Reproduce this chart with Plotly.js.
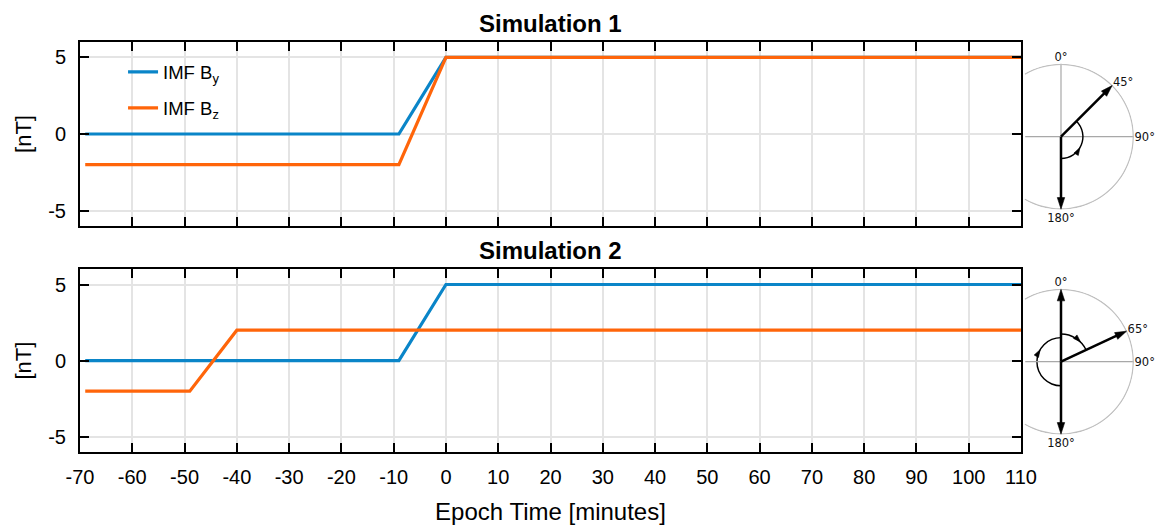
<!DOCTYPE html>
<html><head><meta charset="utf-8">
<script src="https://cdn.plot.ly/plotly-3.0.1.min.js"></script>
<style>html,body{margin:0;padding:0;background:#fff}#chart{width:1155px;height:526px}</style>
</head><body><div id="chart"></div>
<script>
// ---- data ----
const sim1ByTime = [-69, -9, 0, 110];
const sim1ByValues = [0, 0, 5, 5];
const sim1BzTime = [-69, -9, 0, 110];
const sim1BzValues = [-2, -2, 5, 5];
const sim2ByTime = [-69, -9, 0, 110];
const sim2ByValues = [0, 0, 5, 5];
const sim2BzTime = [-69, -49, -40, 110];
const sim2BzValues = [-2, -2, 2, 2];

const xTickVals = [-70, -60, -50, -40, -30, -20, -10, 0, 10, 20, 30, 40, 50, 60, 70, 80, 90, 100, 110];
const xTickText = ['-70', '-60', '-50', '-40', '-30', '-20', '-10', '0', '10', '20', '30', '40', '50', '60', '70', '80', '90', '100', '110'];
const yTickVals = [-5, 0, 5];
const yTickText = ['-5', '0', '5'];

const seriesNames = ['IMF B<sub>y</sub>', 'IMF B<sub>z</sub>'];
const titles = ['Simulation 1', 'Simulation 2'];

// clock-angle diagrams
const sim1Angles = [45, 180];
const sim1AngleTicks = [0, 45, 90, 180];
const sim1AngleLabels = ['0°', '45°', '90°', '180°'];
const sim1SweepStart = [180];
const sim1SweepEnd = [45];
const sim1SweepRadius = [0.3];
const sim1SweepArrowAt = [120];

const sim2Angles = [0, 65, 180];
const sim2AngleTicks = [0, 65, 90, 180];
const sim2AngleLabels = ['0°', '65°', '90°', '180°'];
const sim2SweepStart = [0, 180];
const sim2SweepEnd = [65, 360];
const sim2SweepRadius = [0.38, 0.33];
const sim2SweepArrowAt = [45, 300];

// visible part of the reference circle (clock degrees)
const circleArcStart = [-30];
const circleArcEnd = [210];

// ---- style ----
const BLUE = '#0a85c8';
const ORANGE = '#ff650a';
const FONT = 'Liberation Sans, Arial, sans-serif';

const traces = [];
function lineTrace(x, y, xa, ya, name, color, show, group) {
  return {type: 'scatter', mode: 'lines', x: x, y: y, xaxis: xa, yaxis: ya, name: name,
    line: {color: color, width: 3.2}, showlegend: show, legendgroup: group, hoverinfo: 'skip'};
}
traces.push(lineTrace(sim1ByTime, sim1ByValues, 'x', 'y', seriesNames[0], BLUE, true, 'by'));
traces.push(lineTrace(sim1BzTime, sim1BzValues, 'x', 'y', seriesNames[1], ORANGE, true, 'bz'));
traces.push(lineTrace(sim2ByTime, sim2ByValues, 'x2', 'y2', seriesNames[0], BLUE, false, 'by'));
traces.push(lineTrace(sim2BzTime, sim2BzValues, 'x2', 'y2', seriesNames[1], ORANGE, false, 'bz'));

function arcTrace(subplot, a0, a1, radius, thick, color) {
  return {type: 'barpolar', subplot: subplot, theta: [(a0 + a1) / 2], width: [Math.abs(a1 - a0)],
    base: [radius - thick / 2], r: [thick], marker: {color: color, opacity: 1, line: {width: 0}},
    showlegend: false, hoverinfo: 'skip'};
}

function clockTraces(subplot, angles, sStart, sEnd, sRad, sAt) {
  // outer reference circle (visible part)
  traces.push(arcTrace(subplot, circleArcStart[0], circleArcEnd[0], 0.99, 0.018, '#c0c0c0'));
  // left part of horizontal reference line
  traces.push({type: 'scatterpolar', subplot: subplot, mode: 'lines', theta: [270, 270], r: [0, 0.49],
    line: {color: '#a8a8a8', width: 1.2}, showlegend: false, hoverinfo: 'skip'});
  // sweep arcs
  for (let i = 0; i < sStart.length; i++) {
    traces.push(arcTrace(subplot, sStart[i], sEnd[i], sRad[i], 0.02, '#000'));
    const dir = sEnd[i] > sStart[i] ? 1 : -1;
    traces.push({type: 'scatterpolar', subplot: subplot, mode: 'markers', theta: [sAt[i]], r: [sRad[i]],
      marker: {symbol: 'arrow', size: 8, color: '#000', opacity: 1, angle: sAt[i] + 90 * dir, line: {width: 0.6, color: '#000'}},
      showlegend: false, hoverinfo: 'skip'});
  }
  // field direction arrows
  angles.forEach(function (a) {
    traces.push({type: 'scatterpolar', subplot: subplot, mode: 'lines+markers', theta: [a, a], r: [0, 0.99],
      line: {color: '#000', width: 2.5},
      marker: {symbol: 'arrow', size: [0, 12], color: '#000', opacity: 1, angleref: 'previous', line: {width: 0.6, color: '#000'}},
      showlegend: false, hoverinfo: 'skip'});
  });
}
clockTraces('polar', sim1Angles, sim1SweepStart, sim1SweepEnd, sim1SweepRadius, sim1SweepArrowAt);
clockTraces('polar2', sim2Angles, sim2SweepStart, sim2SweepEnd, sim2SweepRadius, sim2SweepArrowAt);

function xAxis(anchor, labels, title) {
  const ax = {domain: [0, 0.89194], anchor: anchor, range: [-70, 110], tickmode: 'array',
    tickvals: xTickVals, ticktext: xTickText, showticklabels: labels,
    ticks: 'inside', ticklen: 9, tickwidth: 2, tickcolor: '#000',
    showline: true, linecolor: '#000', linewidth: 2, mirror: 'ticks',
    showgrid: true, gridcolor: '#e4e4e4', gridwidth: 2, zeroline: false,
    tickfont: {family: FONT, size: 20, color: '#000'}, ticklabelstandoff: 6};
  if (title) ax.title = {text: title, font: {family: FONT, size: 24, color: '#000'}, standoff: 16};
  return ax;
}
function yAxis(anchor, domain) {
  return {domain: domain, anchor: anchor, range: [-6, 6], tickmode: 'array',
    tickvals: yTickVals, ticktext: yTickText,
    ticks: 'inside', ticklen: 9, tickwidth: 2, tickcolor: '#000',
    showline: true, linecolor: '#000', linewidth: 2, mirror: 'ticks',
    showgrid: true, gridcolor: '#e4e4e4', gridwidth: 2, zeroline: false,
    tickfont: {family: FONT, size: 20, color: '#000'}, ticklabelstandoff: 8,
    title: {text: '[nT]', font: {family: FONT, size: 22, color: '#000'}, standoff: 10}};
}
function polarLayout(ydom, ticks, labels) {
  return {domain: {x: [0.86066, 0.99905], y: ydom}, bgcolor: 'rgba(0,0,0,0)',
    angularaxis: {direction: 'clockwise', rotation: 90, tickmode: 'array', tickvals: ticks, ticktext: labels,
      ticks: '', showline: false,
      showgrid: true, gridcolor: '#a8a8a8', gridwidth: 1.2,
      tickfont: {family: 'DejaVu Sans, sans-serif', size: 11.5, color: '#111'}},
    radialaxis: {visible: false, range: [0, 1]}};
}

const layout = {
  width: 1155, height: 526,
  margin: {l: 80, r: 20, t: 42, b: 74},
  paper_bgcolor: '#fff', plot_bgcolor: '#fff',
  font: {family: FONT, color: '#000'},
  showlegend: true,
  legend: {x: 0.0408, y: 0.9723, xanchor: 'left', yanchor: 'top', bgcolor: 'rgba(0,0,0,0)',
    borderwidth: 0, font: {family: FONT, size: 18.5, color: '#000'}, tracegroupgap: 9},
  xaxis: xAxis('y', false, null),
  yaxis: yAxis('x', [0.55122, 1]),
  xaxis2: xAxis('y2', true, 'Epoch Time [minutes]'),
  yaxis2: yAxis('x2', [0, 0.4456]),
  polar: polarLayout([0.59098, 0.94707], sim1AngleTicks, sim1AngleLabels),
  polar2: polarLayout([0.04220, 0.39829], sim2AngleTicks, sim2AngleLabels),
  annotations: [
    {text: '<b>' + titles[0] + '</b>', xref: 'x domain', yref: 'y domain', x: 0.5, y: 1, xanchor: 'center', yanchor: 'bottom',
      yshift: 3, showarrow: false, font: {family: FONT, size: 24, color: '#000'}},
    {text: '<b>' + titles[1] + '</b>', xref: 'x2 domain', yref: 'y2 domain', x: 0.5, y: 1, xanchor: 'center', yanchor: 'bottom',
      yshift: 3, showarrow: false, font: {family: FONT, size: 24, color: '#000'}}
  ]
};

Plotly.newPlot('chart', traces, layout, {displayModeBar: false, staticPlot: true});
</script>
</body></html>
